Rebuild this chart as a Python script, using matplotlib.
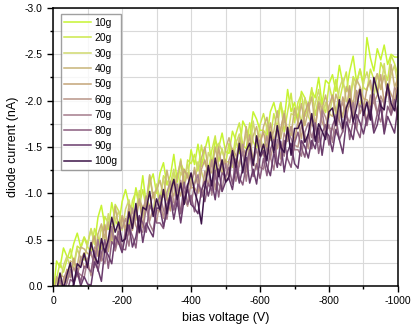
import numpy as np
import matplotlib
matplotlib.use("Agg")
import matplotlib.pyplot as plt
from matplotlib.ticker import MultipleLocator, FormatStrFormatter

plt.rcParams['font.family'] = ['Liberation Sans', 'DejaVu Sans']
plt.rcParams['axes.unicode_minus'] = False

# bias voltage, 10 V steps
voltage = np.arange(0, -1001, -10)

labels = ["10g", "20g", "30g", "40g", "50g", "60g", "70g", "80g", "90g", "100g"]
colors = ["#c6f432", "#cbe84a", "#cfd86e", "#c8b478", "#c4a478",
          "#b89488", "#a47c8c", "#8a5c7e", "#6a3c6c", "#3c1448"]

# diode current (nA)
i_10g = [0.10, -0.27, -0.20, -0.41, -0.32, -0.30, -0.46, -0.57, -0.42, -0.53, -0.45,
         -0.62, -0.45, -0.74, -0.87, -0.64, -0.61, -0.90, -0.71, -0.64, -0.91,
         -1.04, -0.88, -0.79, -1.06, -0.90, -1.19, -0.88, -1.11, -1.21, -1.00,
         -1.22, -1.33, -1.09, -1.19, -1.42, -1.12, -1.32, -1.24, -1.17, -1.47,
         -1.31, -1.53, -1.29, -1.47, -1.61, -1.29, -1.57, -1.49, -1.65, -1.45,
         -1.43, -1.67, -1.57, -1.43, -1.78, -1.70, -1.60, -1.88, -1.80, -1.68,
         -1.68, -1.62, -1.88, -1.98, -1.82, -1.98, -1.78, -2.12, -1.88, -1.98,
         -1.80, -2.10, -2.03, -1.91, -2.11, -2.03, -2.25, -1.96, -2.22, -2.18,
         -2.28, -2.10, -2.38, -2.18, -2.10, -2.32, -2.48, -2.20, -2.34, -2.18,
         -2.68, -2.46, -2.32, -2.56, -2.44, -2.60, -2.39, -2.50, -2.47, -2.47]
i_20g = [0.08, -0.08, -0.25, -0.15, -0.28, -0.40, -0.23, -0.43, -0.40, -0.52, -0.42,
         -0.37, -0.62, -0.53, -0.40, -0.75, -0.68, -0.59, -0.88, -0.81, -0.70,
         -0.71, -0.65, -0.92, -1.02, -0.87, -1.04, -0.84, -1.19, -0.95, -1.06,
         -0.88, -1.19, -1.13, -1.02, -1.22, -1.14, -1.37, -1.09, -1.36, -1.32,
         -1.42, -1.24, -1.52, -1.32, -1.24, -1.46, -1.62, -1.34, -1.48, -1.32,
         -1.54, -1.36, -1.64, -1.76, -1.52, -1.48, -1.76, -1.56, -1.48, -1.74,
         -1.86, -1.70, -1.60, -1.86, -1.70, -1.98, -1.66, -1.88, -2.08, -1.76,
         -1.98, -2.07, -1.83, -1.93, -2.14, -1.84, -2.04, -1.95, -1.87, -2.17,
         -2.01, -2.23, -1.99, -2.17, -2.31, -1.98, -2.26, -2.18, -2.34, -2.14,
         -2.11, -2.34, -2.23, -2.08, -2.41, -2.32, -2.22, -2.49, -2.40, -2.28]
i_30g = [0.12, -0.08, -0.01, -0.22, -0.32, -0.20, -0.21, -0.40, -0.30, -0.28, -0.46,
         -0.61, -0.46, -0.37, -0.64, -0.49, -0.78, -0.47, -0.70, -0.81, -0.60,
         -0.83, -0.93, -0.70, -0.80, -1.03, -0.74, -0.94, -0.87, -0.79, -1.10,
         -0.94, -1.17, -0.93, -1.11, -1.26, -0.94, -1.23, -1.15, -1.31, -1.12,
         -1.10, -1.34, -1.24, -1.10, -1.44, -1.36, -1.26, -1.54, -1.46, -1.34,
         -1.34, -1.28, -1.54, -1.64, -1.48, -1.64, -1.44, -1.78, -1.54, -1.64,
         -1.44, -1.74, -1.68, -1.55, -1.75, -1.67, -1.89, -1.61, -1.86, -1.84,
         -1.94, -1.76, -2.03, -1.83, -1.75, -1.97, -2.12, -1.84, -1.98, -1.82,
         -2.04, -1.85, -2.13, -2.24, -2.00, -1.95, -2.23, -2.02, -1.94, -2.20,
         -2.31, -2.14, -2.04, -2.29, -2.12, -2.40, -2.07, -2.28, -2.38, -2.16]
i_40g = [0.14, 0.06, -0.12, -0.10, -0.04, -0.27, -0.25, -0.22, -0.42, -0.40, -0.35,
         -0.33, -0.28, -0.56, -0.67, -0.52, -0.69, -0.50, -0.86, -0.63, -0.74,
         -0.57, -0.88, -0.82, -0.71, -0.92, -0.85, -0.90, -1.20, -0.97, -1.04,
         -1.14, -0.96, -1.25, -1.05, -0.97, -1.19, -1.35, -1.08, -1.22, -1.06,
         -1.28, -1.10, -1.38, -1.50, -1.26, -1.22, -1.50, -1.30, -1.22, -1.48,
         -1.60, -1.44, -1.34, -1.60, -1.44, -1.72, -1.40, -1.62, -1.72, -1.50,
         -1.72, -1.82, -1.57, -1.67, -1.89, -1.59, -1.79, -1.70, -1.62, -1.92,
         -1.76, -1.97, -1.73, -1.90, -2.04, -1.72, -1.99, -1.91, -2.06, -1.86,
         -1.83, -2.07, -1.96, -1.82, -2.15, -2.06, -1.96, -2.23, -2.15, -2.02,
         -2.01, -1.94, -2.20, -2.29, -2.12, -2.27, -2.06, -2.39, -2.15, -2.24]
i_50g = [0.16, -0.10, -0.03, 0.00, -0.18, -0.10, -0.30, -0.12, -0.28, -0.36, -0.25,
         -0.43, -0.54, -0.32, -0.43, -0.66, -0.37, -0.58, -0.52, -0.45, -0.76,
         -0.61, -0.84, -0.60, -0.79, -0.94, -0.63, -0.92, -0.84, -1.01, -0.82,
         -0.80, -1.04, -0.95, -0.81, -1.15, -1.07, -0.97, -1.26, -1.18, -1.06,
         -1.06, -1.00, -1.26, -1.36, -1.20, -1.36, -1.16, -1.50, -1.26, -1.36,
         -1.18, -1.48, -1.41, -1.29, -1.49, -1.41, -1.63, -1.34, -1.60, -1.56,
         -1.66, -1.48, -1.76, -1.56, -1.48, -1.70, -1.86, -1.58, -1.72, -1.56,
         -1.78, -1.59, -1.87, -1.98, -1.74, -1.70, -1.97, -1.77, -1.68, -1.94,
         -2.06, -1.89, -1.79, -2.04, -1.88, -2.16, -1.83, -2.05, -2.14, -1.92,
         -2.13, -2.22, -1.97, -2.06, -2.28, -1.97, -2.16, -2.07, -1.99, -2.28]
i_60g = [0.18, 0.10, 0.11, -0.08, -0.16, -0.09, -0.20, -0.10, -0.32, -0.19, -0.27,
         -0.11, -0.42, -0.38, -0.27, -0.48, -0.41, -0.64, -0.38, -0.65, -0.62,
         -0.73, -0.55, -0.84, -0.65, -0.57, -0.80, -0.97, -0.70, -0.84, -0.69,
         -0.91, -0.73, -1.01, -1.13, -0.90, -0.86, -1.14, -0.94, -0.86, -1.12,
         -1.24, -1.08, -0.98, -1.24, -1.08, -1.36, -1.04, -1.26, -1.36, -1.14,
         -1.36, -1.46, -1.21, -1.31, -1.53, -1.23, -1.43, -1.34, -1.26, -1.56,
         -1.40, -1.62, -1.37, -1.55, -1.69, -1.37, -1.65, -1.56, -1.72, -1.52,
         -1.50, -1.73, -1.63, -1.48, -1.82, -1.74, -1.63, -1.91, -1.82, -1.70,
         -1.70, -1.63, -1.89, -1.98, -1.82, -1.98, -1.77, -2.11, -1.86, -1.96,
         -1.77, -2.06, -1.99, -1.86, -2.05, -1.96, -2.17, -1.88, -2.14, -2.09]
i_70g = [0.22, 0.03, -0.06, 0.06, -0.03, -0.18, -0.02, -0.15, -0.12, -0.09, -0.29,
         -0.37, -0.20, -0.50, -0.31, -0.24, -0.47, -0.64, -0.38, -0.53, -0.38,
         -0.61, -0.43, -0.72, -0.84, -0.61, -0.58, -0.86, -0.67, -0.59, -0.86,
         -0.98, -0.82, -0.72, -0.98, -0.82, -1.10, -0.78, -1.00, -1.10, -0.88,
         -1.10, -1.20, -0.96, -1.06, -1.28, -0.98, -1.18, -1.10, -1.02, -1.32,
         -1.16, -1.38, -1.13, -1.31, -1.45, -1.13, -1.41, -1.32, -1.48, -1.28,
         -1.26, -1.49, -1.39, -1.25, -1.58, -1.50, -1.40, -1.67, -1.59, -1.47,
         -1.47, -1.40, -1.66, -1.76, -1.60, -1.75, -1.55, -1.89, -1.64, -1.74,
         -1.55, -1.85, -1.78, -1.66, -1.85, -1.76, -1.98, -1.69, -1.95, -1.90,
         -1.99, -1.80, -2.07, -1.86, -1.77, -1.98, -2.13, -1.84, -1.97, -1.80]
i_80g = [0.26, 0.23, 0.02, 0.03, 0.07, -0.07, -0.04, -0.19, -0.04, -0.21, -0.20,
         -0.15, -0.38, -0.16, -0.35, -0.50, -0.19, -0.48, -0.42, -0.59, -0.40,
         -0.39, -0.63, -0.54, -0.41, -0.75, -0.68, -0.58, -0.87, -0.79, -0.68,
         -0.68, -0.62, -0.88, -0.98, -0.82, -0.98, -0.78, -1.12, -0.88, -0.98,
         -0.80, -1.10, -1.03, -0.91, -1.11, -1.03, -1.25, -0.96, -1.22, -1.18,
         -1.28, -1.10, -1.37, -1.17, -1.09, -1.31, -1.47, -1.18, -1.32, -1.16,
         -1.38, -1.19, -1.47, -1.58, -1.34, -1.30, -1.57, -1.37, -1.28, -1.54,
         -1.66, -1.49, -1.39, -1.64, -1.48, -1.76, -1.43, -1.65, -1.74, -1.52,
         -1.73, -1.83, -1.58, -1.67, -1.89, -1.58, -1.78, -1.69, -1.60, -1.90,
         -1.73, -1.94, -1.69, -1.86, -2.00, -1.67, -1.94, -1.85, -2.01, -1.80]
i_90g = [0.30, 0.11, 0.19, -0.01, 0.08, 0.11, -0.04, -0.15, 0.00, -0.10, -0.02,
         -0.01, -0.26, -0.18, -0.05, -0.40, -0.33, -0.24, -0.54, -0.47, -0.36,
         -0.55, -0.66, -0.42, -0.53, -0.76, -0.47, -0.68, -0.60, -0.53, -0.84,
         -0.84, -0.64, -0.80, -0.96, -0.72, -0.92, -0.68, -0.94, -1.04, -0.88,
         -0.84, -0.78, -1.03, -1.13, -0.97, -1.13, -0.93, -1.26, -1.02, -1.12,
         -1.16, -1.04, -1.29, -1.11, -1.27, -1.39, -1.11, -1.26, -1.10, -1.38,
         -1.46, -1.29, -1.19, -1.44, -1.28, -1.56, -1.23, -1.45, -1.54, -1.32,
         -1.27, -1.57, -1.50, -1.38, -1.57, -1.48, -1.70, -1.41, -1.67, -1.62,
         -1.45, -1.69, -1.58, -1.43, -1.77, -1.68, -1.58, -1.85, -1.76, -1.64,
         -1.81, -1.90, -1.65, -1.74, -1.95, -1.64, -1.83, -1.74, -1.65, -1.94]
i_100g = [0.20, 0.05, -0.14, 0.04, -0.12, -0.25, -0.01, -0.24, -0.20, -0.35, -0.20,
          -0.47, -0.32, -0.24, -0.51, -0.36, -0.50, -0.74, -0.58, -0.69, -0.48,
          -0.51, -0.80, -0.62, -0.89, -0.58, -0.85, -0.82, -1.02, -0.75, -0.94,
          -0.82, -1.04, -0.78, -1.01, -1.15, -0.93, -1.11, -0.88, -1.08, -1.22,
          -1.02, -0.90, -0.67, -1.06, -1.30, -1.08, -1.38, -1.18, -1.36, -1.12,
          -1.18, -1.46, -1.28, -1.54, -1.22, -1.46, -1.54, -1.30, -1.62, -1.40,
          -1.53, -1.35, -1.66, -1.44, -1.73, -1.50, -1.44, -1.71, -1.41, -1.70,
          -1.70, -1.79, -1.55, -1.64, -1.86, -1.56, -1.75, -1.67, -1.58, -1.88,
          -1.92, -1.73, -2.01, -1.70, -1.92, -2.02, -1.77, -1.93, -2.12, -1.84,
          -1.98, -1.79, -2.25, -2.10, -1.94, -1.90, -2.18, -1.97, -1.89, -2.14]

currents = [i_10g, i_20g, i_30g, i_40g, i_50g, i_60g, i_70g, i_80g, i_90g, i_100g]

fig = plt.figure(figsize=(4.15, 3.31), dpi=100)
ax = fig.add_axes([0.128, 0.136, 0.831, 0.840])

for lab, c, y in zip(labels, colors, currents):
    ax.plot(voltage, y, color=c, lw=1.1, label=lab)

ax.set_xlim(0, -1000)
ax.set_ylim(0, -3.0)
ax.xaxis.set_major_locator(MultipleLocator(200))
ax.xaxis.set_minor_locator(MultipleLocator(100))
ax.yaxis.set_major_locator(MultipleLocator(0.5))
ax.yaxis.set_minor_locator(MultipleLocator(0.25))
ax.yaxis.set_major_formatter(FormatStrFormatter('%.1f'))
ax.grid(True, which='both', color='#d9d9d9', lw=0.8)
ax.set_axisbelow(True)
ax.tick_params(which='major', direction='out', length=4, width=1, labelsize=7.5)
ax.tick_params(which='minor', direction='out', length=2.5, width=1)
for s in ax.spines.values():
    s.set_linewidth(1.1)
    s.set_color('black')

ax.set_xlabel('bias voltage (V)', fontsize=9, labelpad=4)
ax.set_ylabel('diode current (nA)', fontsize=9, labelpad=4)

leg = ax.legend(loc='upper left', bbox_to_anchor=(0.022, 0.978), fontsize=7.5,
                frameon=True, fancybox=False, edgecolor='#888888',
                handlelength=2.6, handletextpad=0.3, labelspacing=0.52,
                borderpad=0.35, borderaxespad=0.0)
leg.get_frame().set_linewidth(1.0)

fig.savefig('out.png', dpi=100)
